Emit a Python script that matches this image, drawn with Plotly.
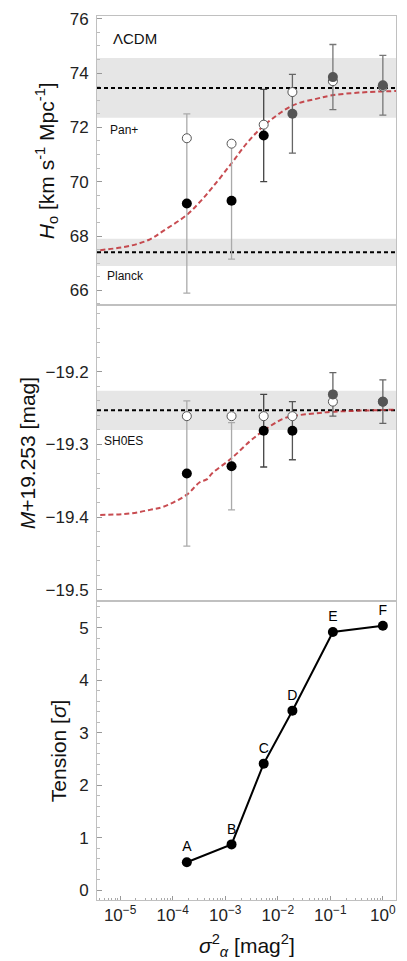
import plotly.graph_objects as go
from plotly.subplots import make_subplots

# ---------------- data ----------------
labels = ["A", "B", "C", "D", "E", "F"]
sigma2 = [1.86e-4, 1.32e-3, 5.4e-3, 1.9e-2, 0.112, 1.0]

# panel 1: H0
h0_fit = [69.2, 69.3, 71.7, 72.5, 73.85, 73.55]
h0_err = [3.3, 2.15, 1.7, 1.45, 1.2, 1.1]
h0_alt = [71.6, 71.4, 72.1, 73.3, 73.7, 73.5]
planck_h0, planck_err = 67.4, 0.5
panplus_h0, panplus_err = 73.45, 1.1
h0_curve_x = [4.18e-6, 1.55e-5, 3.70e-5, 6.52e-5, 1.86e-4, 3.27e-4, 5.77e-4,
              1.32e-3, 2.54e-3, 5.33e-3, 1.89e-2, 5.38e-2, 0.108, 0.351, 1.84]
h0_curve_y = [67.48, 67.64, 67.88, 68.18, 68.78, 69.25, 69.80,
              70.68, 71.40, 72.05, 72.80, 73.05, 73.18, 73.28, 73.34]

# panel 2: M
m_fit = [-19.34, -19.33, -19.281, -19.281, -19.231, -19.241]
m_err = [0.10, 0.06, 0.05, 0.04, 0.03, 0.03]
m_alt = [-19.261, -19.261, -19.261, -19.261, -19.241, -19.241]
shoes_m, shoes_err = -19.253, 0.027
m_curve_x = [4.18e-6, 1.55e-5, 3.70e-5, 6.52e-5, 1.86e-4, 3.27e-4, 4.45e-4, 5.77e-4,
             1.32e-3, 2.90e-3, 5.33e-3, 1.22e-2, 1.89e-2, 5.38e-2, 0.108, 1.84]
m_curve_y = [-19.397, -19.395, -19.390, -19.386, -19.369, -19.352, -19.348, -19.339,
             -19.319, -19.296, -19.281, -19.265, -19.261, -19.257, -19.255, -19.252]

# panel 3: tension
tension = [0.53, 0.87, 2.41, 3.42, 4.92, 5.04]

xtick_vals = [1e-5, 1e-4, 1e-3, 1e-2, 1e-1, 1e0]
xtick_text = ["10<sup>−5</sup>", "10<sup>−4</sup>", "10<sup>−3</sup>",
              "10<sup>−2</sup>", "10<sup>−1</sup>", "10<sup>0</sup>"]

# ---------------- styles ----------------
FONT = "Liberation Sans, Arial, sans-serif"
bar_colors_1 = ["#aaaaaa", "#aaaaaa", "#444444", "#666666", "#777777", "#777777"]
bar_colors_2 = ["#aaaaaa", "#aaaaaa", "#444444", "#555555", "#666666", "#666666"]
fill_colors_1 = ["#000000", "#000000", "#000000", "#555555", "#555555", "#555555"]
fill_colors_2 = ["#000000", "#000000", "#000000", "#000000", "#555555", "#555555"]
RED = "rgba(190,45,50,0.85)"
BAND = "#e6e6e6"

fig = make_subplots(rows=3, cols=1, shared_xaxes=True, vertical_spacing=0)

# bands and reference lines (panel 1 and 2)
def add_band(row, yc, ye):
    xr = "x domain" if row == 1 else f"x{row} domain"
    yr = "y" if row == 1 else f"y{row}"
    fig.add_shape(type="rect", xref=xr, yref=yr, x0=0, x1=1, y0=yc - ye, y1=yc + ye,
                  fillcolor=BAND, line_width=0, layer="below")
    fig.add_shape(type="line", xref=xr, yref=yr, x0=0, x1=1, y0=yc, y1=yc,
                  line=dict(color="black", width=2, dash="4px,3px"), layer="below")

add_band(1, planck_h0, planck_err)
add_band(1, panplus_h0, panplus_err)
add_band(2, shoes_m, shoes_err)

# red curves
fig.add_trace(go.Scatter(x=h0_curve_x, y=h0_curve_y, mode="lines", line_shape="spline",
                         line=dict(color=RED, width=2, dash="5px,3px"),
                         hoverinfo="skip", showlegend=False), row=1, col=1)
fig.add_trace(go.Scatter(x=m_curve_x, y=m_curve_y, mode="lines", line_shape="spline",
                         line=dict(color=RED, width=2, dash="5px,3px"),
                         hoverinfo="skip", showlegend=False), row=2, col=1)

# error bars (one trace per point so each can have its own grey)
for i in range(len(sigma2)):
    fig.add_trace(go.Scatter(x=[sigma2[i]], y=[h0_fit[i]], mode="markers",
                             marker=dict(size=1, color="rgba(0,0,0,0)"),
                             error_y=dict(type="data", array=[h0_err[i]], color=bar_colors_1[i],
                                          thickness=1.3, width=3.5),
                             showlegend=False), row=1, col=1)
    fig.add_trace(go.Scatter(x=[sigma2[i]], y=[m_fit[i]], mode="markers",
                             marker=dict(size=1, color="rgba(0,0,0,0)"),
                             error_y=dict(type="data", array=[m_err[i]], color=bar_colors_2[i],
                                          thickness=1.3, width=3.5),
                             showlegend=False), row=2, col=1)

# open circles
fig.add_trace(go.Scatter(x=sigma2, y=h0_alt, mode="markers",
                         marker=dict(size=9, color="white", line=dict(color="#555555", width=1)),
                         showlegend=False), row=1, col=1)
fig.add_trace(go.Scatter(x=sigma2, y=m_alt, mode="markers",
                         marker=dict(size=9, color="white", line=dict(color="#555555", width=1)),
                         showlegend=False), row=2, col=1)
# filled circles
fig.add_trace(go.Scatter(x=sigma2, y=h0_fit, mode="markers",
                         marker=dict(size=10, color=fill_colors_1, line_width=0),
                         showlegend=False), row=1, col=1)
fig.add_trace(go.Scatter(x=sigma2, y=m_fit, mode="markers",
                         marker=dict(size=10, color=fill_colors_2, line_width=0),
                         showlegend=False), row=2, col=1)

# tension
fig.add_trace(go.Scatter(x=sigma2, y=tension, mode="lines+markers+text", text=labels,
                         textposition="top center",
                         textfont=dict(family=FONT, size=14, color="black"),
                         line=dict(color="black", width=2),
                         marker=dict(size=10, color="black"),
                         showlegend=False), row=3, col=1)

# ---------------- layout ----------------
W, H = 407, 961
ML, MR, MT, MB = 97, 10, 10, 61
PH = H - MT - MB
def py(p):
    return (H - MB - p) / PH
def px(p):
    return (p - ML) / (W - ML - MR)

axis_common = dict(showline=True, mirror=True, linecolor="#c0c0c0", linewidth=1,
                   showgrid=False, zeroline=False)
minor_x = dict(ticks="inside", ticklen=2.5, tickcolor="#aaaaaa",
               tickvals=[k * 10.0 ** e for e in range(-6, 1) for k in range(2, 10)])
TICKFONT = dict(family=FONT, size=17, color="#222222")

fig.update_layout(
    width=W, height=H, margin=dict(l=ML, r=MR, t=MT, b=MB),
    plot_bgcolor="white", paper_bgcolor="white",
    font=dict(family=FONT, size=15, color="#222222"),
    yaxis=dict(domain=[py(301), 1.0], range=[65.46, 76.1], dtick=2, tick0=66, tickfont=TICKFONT,
               ticks="inside", ticklen=5, tickcolor="#999999", ticklabelstandoff=4,
               minor=dict(ticks="inside", ticklen=3, tickcolor="#bbbbbb", dtick=0.5), **axis_common),
    yaxis2=dict(domain=[py(599), py(301)], range=[-19.5155, -19.108], dtick=0.1, tick0=-19.5,
                tickformat=".1f", ticks="inside", ticklen=5, tickcolor="#999999", ticklabelstandoff=4,
                tickfont=TICKFONT,
                minor=dict(ticks="inside", ticklen=3, tickcolor="#bbbbbb", dtick=0.02), **axis_common),
    yaxis3=dict(domain=[0, py(599)], range=[-0.19, 5.51], dtick=1, tick0=0, tickfont=TICKFONT,
                ticks="inside", ticklen=5, tickcolor="#999999", ticklabelstandoff=4,
                minor=dict(ticks="inside", ticklen=3, tickcolor="#bbbbbb", dtick=0.2), **axis_common),
)
for r in (1, 2, 3):
    fig.update_xaxes(type="log", range=[-5.44, 0.25], row=r, col=1, **axis_common)
fig.update_xaxes(ticks="", showticklabels=False, row=1, col=1)
fig.update_xaxes(ticks="", showticklabels=False, row=2, col=1)
fig.update_xaxes(tickmode="array", tickvals=xtick_vals, ticktext=xtick_text, tickfont=TICKFONT,
                 ticks="inside", ticklen=4, tickcolor="#999999", minor=minor_x,
                 row=3, col=1)

TITLEFONT = dict(family=FONT, size=21, color="#111111")
ann = [
    dict(text="<i>H</i><sub>o</sub> [km s<sup>-1</sup> Mpc<sup>-1</sup>]", x=px(46), y=py(156),
         textangle=-90, font=TITLEFONT),
    dict(text="<i>M</i>+19.253 [mag]", x=px(27), y=py(450), textangle=-90, font=TITLEFONT),
    dict(text="Tension [<i>σ</i>]", x=px(58), y=py(750), textangle=-90, font=TITLEFONT),
    dict(text="<i>σ</i><sup>2</sup><sub><i>α</i></sub> [mag<sup>2</sup>]", x=px(248), y=py(946),
         font=TITLEFONT),
    dict(text="ΛCDM", x=px(111), y=py(33), xanchor="left", font=dict(family=FONT, size=15, color="#111111")),
    dict(text="Pan+", x=px(108), y=py(125), xanchor="left", font=dict(family=FONT, size=12, color="#111111")),
    dict(text="Planck", x=px(105), y=py(272), xanchor="left", font=dict(family=FONT, size=12, color="#111111")),
    dict(text="SH0ES", x=px(102), y=py(438), xanchor="left", font=dict(family=FONT, size=12, color="#111111")),
]
for a in ann:
    a.setdefault("xanchor", "center")
    a.update(xref="paper", yref="paper", yanchor="middle", showarrow=False)
fig.update_layout(annotations=ann)

fig.write_html("out.html")
